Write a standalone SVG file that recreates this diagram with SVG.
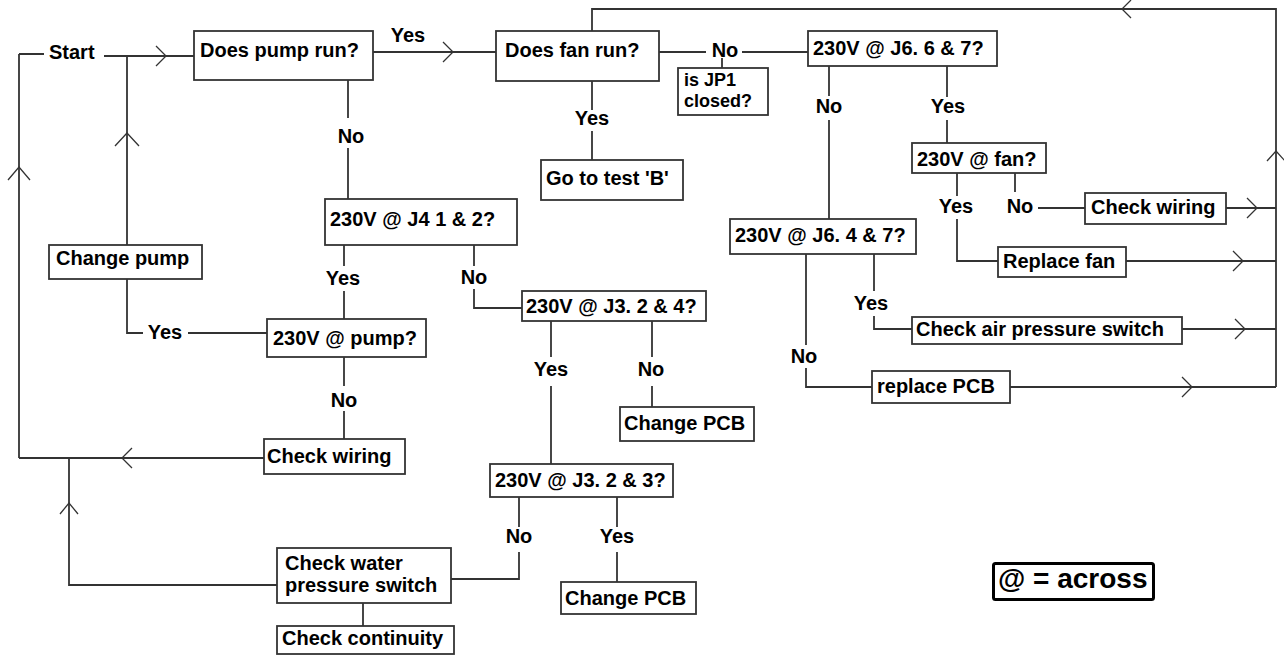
<svg xmlns="http://www.w3.org/2000/svg" width="1284" height="657" viewBox="0 0 1284 657">
<style>
.b{fill:#fff;stroke:#333;stroke-width:1.8}
.c{fill:none;stroke:#333;stroke-width:1.8}
.h{fill:none;stroke:#333;stroke-width:1.3}
text{font-family:"Liberation Sans",Arial,sans-serif;font-weight:bold;font-size:20px;fill:#000}
.m{text-anchor:middle}
.s{font-size:18px}
</style>
<rect width="1284" height="657" fill="#fff"/>
<g id="connectors">
<path class="c" d="M19,54H44M19,54V458M104,56H194M127,56V245M373,52H496M348,80V118M348,148V199"/>
<path class="c" d="M592,31V9H1276V387M592,81V110M592,131V160M659,52H706M742,52H808M722,58V68"/>
<path class="c" d="M829,66V96M829,120V219M947,66V97M947,120V143M957,173V196M957,219V261H998M1015,173V192M1038,208H1085M1226,208H1276M1126,261H1276"/>
<path class="c" d="M874,254V291M874,316V329H912M1182,329H1276M806,254V345M806,368V387H872M1010,387H1276"/>
<path class="c" d="M344,245V266M344,291V319M474,245V266M474,289V308H522M267,333H188M143,333H127V279M344,357V386M344,411V439"/>
<path class="c" d="M264,458H19M69,458V585H277M451,579H519V552M519,527V497M363,603V626M551,321V357M551,386V464M652,321V357M652,386V407M617,497V527M617,552V582"/>
<path class="h" d="M156,46L166,56L156,66M443,42L453,52L443,62M1131,0L1122,9L1131,18M1247,198L1257,208L1247,218M1233,251L1243,261L1233,271M1235,319L1245,329L1235,339M1182,377L1192,387L1182,397M132,448L122,458L132,468"/>
<path class="h" d="M115,146L127,133L139,146M8,180L19,167L30,180M1267,161L1276,151L1285,161M60,514L69,503L78,514"/>
<text x="49" y="59">Start</text>
<text class="m" x="408" y="42">Yes</text>
<text class="m" x="351" y="143">No</text>
<text class="m" x="592" y="125">Yes</text>
<text class="m" x="725" y="57">No</text>
<text class="m" x="829" y="113">No</text>
<text class="m" x="948" y="113">Yes</text>
<text class="m" x="956" y="213">Yes</text>
<text class="m" x="1020" y="213">No</text>
<text class="m" x="871" y="310">Yes</text>
<text class="m" x="804" y="363">No</text>
<text class="m" x="343" y="285">Yes</text>
<text class="m" x="474" y="284">No</text>
<text class="m" x="165" y="339">Yes</text>
<text class="m" x="344" y="407">No</text>
<text class="m" x="551" y="376">Yes</text>
<text class="m" x="651" y="376">No</text>
<text class="m" x="519" y="543">No</text>
<text class="m" x="617" y="543">Yes</text>
</g>
<g id="pump"><rect class="b" x="194" y="31" width="179" height="49"/><text x="200" y="57">Does pump run?</text></g>
<g id="fan"><rect class="b" x="496" y="31" width="163" height="50"/><text x="505" y="57">Does fan run?</text></g>
<g id="jp1"><rect class="b" x="678" y="68" width="90" height="47"/><text class="s" x="684" y="86">is JP1</text><text class="s" x="684" y="107">closed?</text></g>
<g id="gotest"><rect class="b" x="541" y="160" width="142" height="40"/><text x="546" y="185">Go to test 'B'</text></g>
<g id="j66"><rect class="b" x="808" y="31" width="189" height="35"/><text x="813" y="55">230V @ J6. 6 &amp; 7?</text></g>
<g id="fanq"><rect class="b" x="912" y="143" width="134" height="30"/><text x="917" y="166">230V @ fan?</text></g>
<g id="wiringR"><rect class="b" x="1085" y="193" width="141" height="31"/><text x="1091" y="214">Check wiring</text></g>
<g id="repfan"><rect class="b" x="998" y="247" width="128" height="30"/><text x="1003" y="268">Replace fan</text></g>
<g id="j64"><rect class="b" x="730" y="219" width="186" height="35"/><text x="735" y="242">230V @ J6. 4 &amp; 7?</text></g>
<g id="air"><rect class="b" x="912" y="317" width="270" height="27"/><text x="916" y="336">Check air pressure switch</text></g>
<g id="reppcb"><rect class="b" x="872" y="371" width="138" height="32"/><text x="877" y="393">replace PCB</text></g>
<g id="j4"><rect class="b" x="325" y="199" width="192" height="46"/><text x="330" y="226">230V @ J4 1 &amp; 2?</text></g>
<g id="chpump"><rect class="b" x="49" y="245" width="153" height="34"/><text x="56" y="265">Change pump</text></g>
<g id="pumpq"><rect class="b" x="267" y="319" width="159" height="38"/><text x="273" y="345">230V @ pump?</text></g>
<g id="wiringL"><rect class="b" x="264" y="439" width="141" height="35"/><text x="267" y="463">Check wiring</text></g>
<g id="j324"><rect class="b" x="522" y="291" width="184" height="30"/><text x="526" y="313">230V @ J3. 2 &amp; 4?</text></g>
<g id="pcb1"><rect class="b" x="620" y="407" width="134" height="34"/><text x="624" y="430">Change PCB</text></g>
<g id="j323"><rect class="b" x="490" y="464" width="183" height="33"/><text x="495" y="487">230V @ J3. 2 &amp; 3?</text></g>
<g id="water"><rect class="b" x="277" y="548" width="174" height="55"/><text x="285" y="570">Check water</text><text x="285" y="592">pressure switch</text></g>
<g id="continuity"><rect class="b" x="277" y="626" width="177" height="28"/><text x="282" y="645">Check continuity</text></g>
<g id="pcb2"><rect class="b" x="561" y="582" width="135" height="32"/><text x="565" y="605">Change PCB</text></g>
<g id="legend"><rect x="993.5" y="563.5" width="160" height="36" rx="2" fill="#fff" stroke="#000" stroke-width="3"/><text x="998" y="588" style="font-size:28px">@ = across</text></g>
</svg>
